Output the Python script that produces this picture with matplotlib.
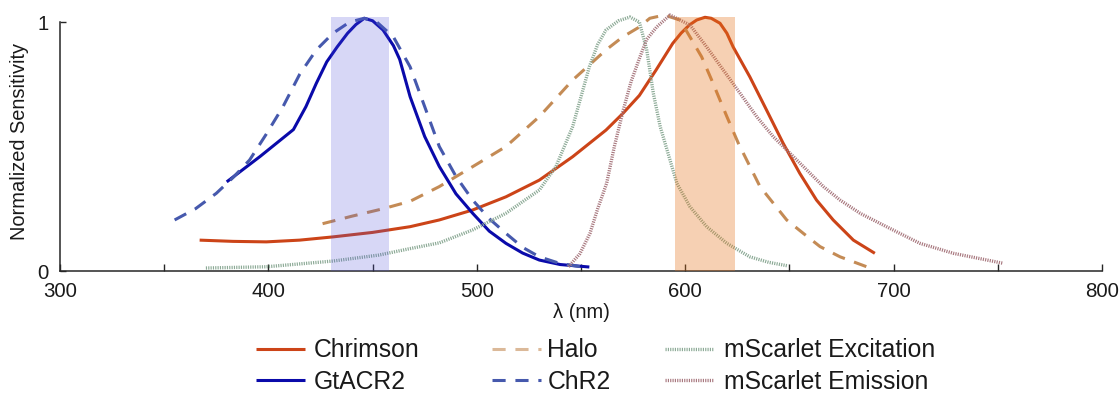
import matplotlib
matplotlib.use("Agg")
import matplotlib.pyplot as plt

plt.rcParams['font.family'] = ['Liberation Sans', 'DejaVu Sans']

# ---------------- data (wavelength nm, normalized sensitivity) ----------------
chrimson_x = [367, 383, 399, 415, 431, 450, 468, 482, 498, 514, 530, 546, 562, 570, 578,
              586, 594, 598, 602, 605.5, 609.5, 612.5, 616.7, 620, 623, 631, 639, 647, 655,
              663, 671, 680.7, 691]
chrimson_y = [0.124, 0.119, 0.117, 0.124, 0.137, 0.155, 0.178, 0.205, 0.245, 0.298, 0.365,
              0.459, 0.566, 0.632, 0.705, 0.807, 0.914, 0.955, 0.988, 1.008, 1.019, 1.015,
              0.995, 0.955, 0.90, 0.78, 0.647, 0.513, 0.392, 0.285, 0.205, 0.124, 0.071]

gtacr2_x = [380, 396, 412, 418, 423, 428, 433, 438, 442, 446, 450, 455, 460, 463, 468,
            475, 482, 490, 498, 506, 514, 522, 530, 540, 554]
gtacr2_y = [0.358, 0.46, 0.568, 0.66, 0.754, 0.84, 0.90, 0.955, 0.99, 1.015, 1.005, 0.968,
            0.905, 0.85, 0.70, 0.54, 0.42, 0.31, 0.232, 0.16, 0.111, 0.072, 0.044, 0.026,
            0.016]

halo_x = [426, 440, 455, 468, 482, 498, 514, 530, 546, 562, 570, 578, 583, 590, 597.5,
          602.3, 607.9, 612.7, 620, 625.5, 629.5, 635.9, 642.3, 648.7, 656.7, 664.7,
          674.3, 687.1]
halo_y = [0.19, 0.22, 0.25, 0.28, 0.339, 0.419, 0.50, 0.62, 0.767, 0.888, 0.94, 0.98,
          1.015, 1.028, 1.008, 0.94, 0.86, 0.767, 0.62, 0.513, 0.446, 0.339, 0.272,
          0.205, 0.151, 0.098, 0.057, 0.017]

chr2_x = [355, 365, 375, 383, 391, 399, 407, 415, 423, 431, 439, 446, 452, 460, 468,
          475, 482, 490, 498, 506, 514, 522, 530, 540, 550]
chr2_y = [0.205, 0.25, 0.312, 0.375, 0.446, 0.55, 0.66, 0.79, 0.888, 0.955, 1.0, 1.015,
          1.0, 0.94, 0.82, 0.66, 0.50, 0.38, 0.285, 0.21, 0.151, 0.095, 0.057, 0.03,
          0.017]

exc_x = [370, 399, 431, 453, 468, 482, 498, 514, 530, 538, 543, 546, 550, 554, 558, 562,
         568, 573.5, 578, 581.5, 584.7, 588, 592.7, 596, 602.3, 610.3, 620, 631, 640, 649]
exc_y = [0.012, 0.017, 0.04, 0.064, 0.09, 0.113, 0.165, 0.232, 0.325, 0.42, 0.52, 0.58,
         0.70, 0.82, 0.91, 0.968, 1.005, 1.02, 1.0, 0.89, 0.714, 0.58, 0.446, 0.352,
         0.258, 0.178, 0.111, 0.057, 0.035, 0.021]

em_x = [544, 549.5, 554.3, 558, 562.3, 566, 570.3, 574, 578.3, 581.5, 586.3, 592.7, 602.3,
        610.3, 618.3, 626.3, 634.3, 642.3, 650.3, 658.3, 666.3, 674.3, 683.9, 693.5, 703,
        712.7, 728.7, 752.6]
em_y = [0.017, 0.07, 0.151, 0.25, 0.352, 0.5, 0.647, 0.76, 0.86, 0.93, 0.98, 1.028, 0.988,
        0.90, 0.807, 0.714, 0.62, 0.539, 0.473, 0.406, 0.339, 0.285, 0.232, 0.191, 0.151,
        0.111, 0.071, 0.031]

blue_band = [430, 458]
orange_band = [595, 624]
band_top = 1.02

x_major = [300, 400, 500, 600, 700, 800]
x_minor = [350, 450, 550, 650, 750]
y_ticks = [0, 1]

# ---------------- figure ----------------
fig = plt.figure(figsize=(11.19, 3.94), dpi=100)
ax = fig.add_axes([0.05362, 0.31218, 0.93119, 0.6572])

lw = 2.2
l_chr = ax.plot(chrimson_x, chrimson_y, color='#CC4418', lw=lw, label='Chrimson',
                solid_capstyle='butt', solid_joinstyle='round')[0]
l_gt = ax.plot(gtacr2_x, gtacr2_y, color='#0A0AAA', lw=lw, label='GtACR2',
               solid_capstyle='butt', solid_joinstyle='round')[0]
l_halo = ax.plot(halo_x, halo_y, color='#C48B55', lw=lw, dashes=(4.3, 3.2), label='Halo')[0]
l_chr2 = ax.plot(chr2_x, chr2_y, color='#4659AD', lw=lw, dashes=(4.3, 3.2), label='ChR2')[0]
l_exc = ax.plot(exc_x, exc_y, color='#8CAA96', lw=2.4, dashes=(0.35, 0.35),
                label='mScarlet Excitation')[0]
l_em = ax.plot(em_x, em_y, color='#A8787F', lw=2.4, dashes=(0.35, 0.35),
               label='mScarlet Emission')[0]

ax.fill_between(blue_band, [0, 0], [band_top, band_top], color='#4D4DD9', alpha=0.22,
                lw=0, zorder=5)
ax.fill_between(orange_band, [0, 0], [band_top, band_top], color='#E67319', alpha=0.33,
                lw=0, zorder=5)

ax.set_xlim(300, 800)
ax.set_ylim(0, 1.04)
for s in ['top', 'right']:
    ax.spines[s].set_visible(False)
for s in ['left', 'bottom']:
    ax.spines[s].set_color('#262626')
    ax.spines[s].set_linewidth(1.1)
ax.spines['left'].set_bounds(0, 1)

ax.set_xticks(x_major)
ax.set_xticks(x_minor, minor=True)
ax.set_yticks(y_ticks)
ax.set_yticklabels([str(v) for v in y_ticks])
ax.tick_params(axis='x', which='both', direction='in', length=5, width=1.0,
               color='#262626', labelsize=14.7, pad=8, labelcolor='#1a1a1a')
ax.tick_params(axis='y', direction='in', length=4.5, width=1.0, color='#262626',
               labelsize=14.7, pad=8, labelcolor='#1a1a1a')

ax.set_xlabel('λ (nm)', fontsize=14.5, labelpad=1, color='#1a1a1a')
ax.set_ylabel('Normalized Sensitivity', fontsize=14.4, labelpad=6, color='#1a1a1a')

leg_kw = dict(loc='center left', frameon=False, fontsize=17.8, borderpad=0,
              borderaxespad=0, labelspacing=0.31, handlelength=2.0)
leg1 = fig.legend([l_chr, l_gt], ['Chrimson', 'GtACR2'], bbox_to_anchor=(0.2288, 0.0711),
                  handletextpad=0.32, **leg_kw)
leg2 = fig.legend([l_halo, l_chr2], ['Halo', 'ChR2'], bbox_to_anchor=(0.4397, 0.0711),
                  handletextpad=0.24, **leg_kw)
leg3 = fig.legend([l_exc, l_em], ['mScarlet Excitation', 'mScarlet Emission'],
                  bbox_to_anchor=(0.5943, 0.0711), handletextpad=0.4, **leg_kw)
leg2.legend_handles[0].set_alpha(0.6)
for lg in (leg1, leg2, leg3):
    for t in lg.get_texts():
        t.set_color('#1a1a1a')

fig.savefig('out.png', dpi=100)
